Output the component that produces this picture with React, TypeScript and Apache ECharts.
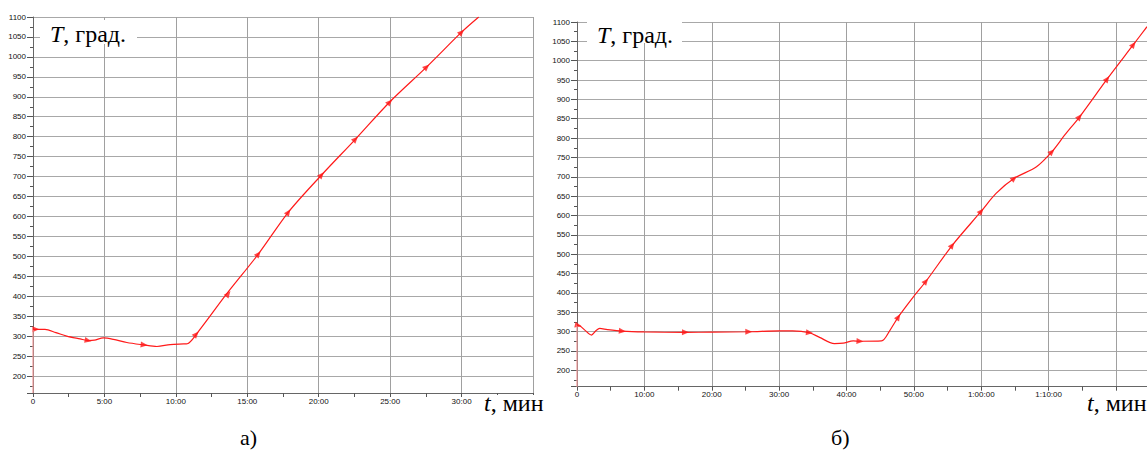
import React, { useEffect, useRef } from 'react';
import * as echarts from 'echarts';

// ---- data (time in minutes, temperature in degrees) ----
const leftTime = [0, 0.84, 1.6, 2.36, 3.3, 3.86, 4.3, 4.93, 5.63, 6.57, 7.74, 8.67, 9.6, 10.54, 10.8, 11.48, 13.58, 15.78, 17.88, 20.2, 22.58, 24.97, 27.56, 30.0, 31.2];
const leftTemp = [317, 317, 309, 300, 293, 289, 290, 295.5, 292, 284, 278, 274, 279, 280.5, 281, 307, 407, 506, 611, 704, 794, 887, 975, 1062, 1100];
const leftMarkTime = [0.2, 3.86, 7.78, 11.43, 13.67, 15.78, 17.88, 20.2, 22.58, 24.97, 27.56, 30.0];
const leftMarkTemp = [317, 289, 278, 305, 406, 506, 611, 704, 794, 887, 975, 1062];

const rightTime = [0, 0.5, 1.2, 2.14, 2.8, 3.37, 4.5, 6.73, 10, 16.1, 20, 25.5, 30, 32, 34.5, 36, 38.2, 39.5, 41, 42, 45.2, 46.4, 47.7, 49.9, 51.8, 55.7, 60.0, 62.2, 64.9, 68.2, 70.5, 72.4, 74.6, 78.7, 82.6, 84.6];
const rightTemp = [316, 314, 303, 291, 302, 308, 305, 301, 299, 298, 298.5, 299.5, 302, 302, 297, 285, 269, 270, 276, 275, 276, 302, 338, 389, 430, 523, 611, 657, 696, 726, 765, 808, 855, 953, 1042, 1088];
const rightMarkTime = [0.2, 6.73, 16.1, 25.5, 34.5, 42.0, 47.7, 51.8, 55.7, 60.0, 64.9, 70.5, 74.6, 78.7, 82.6];
const rightMarkTemp = [316, 301, 298, 299.5, 297, 275, 338, 430, 523, 611, 696, 765, 855, 953, 1042];

const yMin = 157.5;
const yMax = 1100;
const leftXMax = 35;
const rightXMax = 84.6;
const leftXStep = 5;
const rightXStep = 10;
const leftHiddenTick = 35;
const rightHiddenTick = 80;

const yTitle = 'T';
const yTitleRest = ', град.';
const xTitle = 't';
const xTitleRest = ', мин';
const panelA = 'а)';
const panelB = 'б)';

// ---- layout ----
const L = { left: 33, top: 17, width: 500, height: 376 };
const R = { left: 577, top: 22, width: 570, height: 364.7 };

function fmtTime(v: number): string {
  if (v === 0) return '0';
  const total = Math.round(v);
  const h = Math.floor(total / 60);
  const m = total % 60;
  if (h > 0) return `${h}:${String(m).padStart(2, '0')}:00`;
  return `${m}:00`;
}

function angleAt(ts: number[], vs: number[], t: number, pxm: number, pyu: number): number {
  let i = 0;
  while (i < ts.length - 2 && ts[i + 1] < t) i++;
  const dt = ts[i + 1] - ts[i];
  const dv = vs[i + 1] - vs[i];
  const a = (Math.atan2(dv * pyu, dt * pxm) * 180) / Math.PI;
  return a - 90;
}

const axisFont = { fontFamily: 'Liberation Sans, Arial, sans-serif', fontSize: 8, color: '#111' };

function xAxisCfg(grid: number, max: number, step: number, hidden: number) {
  return {
    gridIndex: grid,
    type: 'value',
    min: 0,
    max,
    interval: step,
    axisLine: { show: true, lineStyle: { color: '#666', width: 1 } },
    axisTick: { show: true, length: 4, lineStyle: { color: '#555' } },
    minorTick: { show: true, splitNumber: 2, length: 4, lineStyle: { color: '#555' } },
    splitLine: { show: true, lineStyle: { color: '#a0a0a0', width: 1 } },
    axisLabel: {
      ...axisFont,
      margin: 4,
      showMaxLabel: false,
      formatter: (v: number) => (Math.abs(v - hidden) < 0.01 ? '' : fmtTime(v)),
    },
  };
}

function yAxisCfg(grid: number) {
  return {
    gridIndex: grid,
    type: 'value',
    min: yMin,
    max: yMax,
    splitNumber: 19,
    axisLine: { show: true, lineStyle: { color: '#666', width: 1 } },
    axisTick: { show: true, length: 6, lineStyle: { color: '#555' } },
    minorTick: { show: true, splitNumber: 2, length: 3, lineStyle: { color: '#555' } },
    splitLine: { show: true, lineStyle: { color: '#a8a8a8', width: 1 } },
    axisLabel: { ...axisFont, margin: 7, showMinLabel: false, formatter: (v: number) => String(Math.round(v)) },
  };
}

export default function App() {
  const ref = useRef<HTMLDivElement>(null);
  useEffect(() => {
    if (!ref.current) return;
    const chart = echarts.init(ref.current, undefined, { renderer: 'svg' });

    const lPxm = L.width / leftXMax;
    const lPyu = L.height / (yMax - yMin);
    const rPxm = R.width / rightXMax;
    const rPyu = R.height / (yMax - yMin);

    const leftLine = leftTime.map((t, i) => [t, leftTemp[i]]);
    const rightLine = rightTime.map((t, i) => [t, rightTemp[i]]);
    const leftMarks = leftMarkTime.map((t, i) => ({
      value: [t, leftMarkTemp[i]],
      symbolRotate: angleAt(leftTime, leftTemp, t, lPxm, lPyu),
    }));
    const rightMarks = rightMarkTime.map((t, i) => ({
      value: [t, rightMarkTemp[i]],
      symbolRotate: angleAt(rightTime, rightTemp, t, rPxm, rPyu),
    }));

    const serif = 'Liberation Serif, Times New Roman, serif';
    const titleRich = {
      i: { fontStyle: 'italic', fontFamily: serif, fontSize: 24, fill: '#000', color: '#000' },
      n: { fontFamily: serif, fontSize: 24, fill: '#000', color: '#000' },
    };

    const lineColor = '#ff1a1a';

    chart.setOption({
      animation: false,
      backgroundColor: '#ffffff',
      grid: [
        { left: L.left, top: L.top, width: L.width, height: L.height },
        { left: R.left, top: R.top, width: R.width, height: R.height },
      ],
      xAxis: [xAxisCfg(0, leftXMax, leftXStep, leftHiddenTick), xAxisCfg(1, rightXMax, rightXStep, rightHiddenTick)],
      yAxis: [yAxisCfg(0), yAxisCfg(1)],
      series: [
        {
          type: 'line', xAxisIndex: 0, yAxisIndex: 0, data: [[0, yMin], [0, leftTemp[0]]],
          showSymbol: false, lineStyle: { color: '#f29a9a', width: 1.2 }, silent: true,
        },
        {
          type: 'line', xAxisIndex: 0, yAxisIndex: 0, data: leftLine, smooth: 0.3,
          showSymbol: false, lineStyle: { color: lineColor, width: 1.2 }, silent: true,
        },
        {
          type: 'scatter', xAxisIndex: 0, yAxisIndex: 0, data: leftMarks,
          symbol: 'triangle', symbolSize: [6, 7], itemStyle: { color: lineColor }, silent: true,
        },
        {
          type: 'line', xAxisIndex: 1, yAxisIndex: 1, data: [[0, yMin], [0, rightTemp[0]]],
          showSymbol: false, lineStyle: { color: '#f29a9a', width: 1.2 }, silent: true,
        },
        {
          type: 'line', xAxisIndex: 1, yAxisIndex: 1, data: rightLine, smooth: 0.3,
          showSymbol: false, lineStyle: { color: lineColor, width: 1.2 }, silent: true,
        },
        {
          type: 'scatter', xAxisIndex: 1, yAxisIndex: 1, data: rightMarks,
          symbol: 'triangle', symbolSize: [6, 7], itemStyle: { color: lineColor }, silent: true,
        },
      ],
      graphic: [
        { type: 'rect', z: 100, shape: { x: 40, y: 20, width: 97, height: 24 }, style: { fill: '#fff' } },
        {
          type: 'text', z: 101, x: 50, y: 34,
          style: { text: `{i|${yTitle}}{n|${yTitleRest}}`, rich: titleRich, verticalAlign: 'middle', align: 'left' },
        },
        { type: 'rect', z: 100, shape: { x: 587, y: 21, width: 95, height: 22 }, style: { fill: '#fff' } },
        {
          type: 'text', z: 101, x: 597, y: 35,
          style: { text: `{i|${yTitle}}{n|${yTitleRest}}`, rich: titleRich, verticalAlign: 'middle', align: 'left' },
        },
        { type: 'rect', z: 100, shape: { x: 480, y: 395, width: 80, height: 25 }, style: { fill: '#fff' } },
        {
          type: 'text', z: 101, x: 484, y: 403,
          style: { text: `{i|${xTitle}}{n|${xTitleRest}}`, rich: titleRich, verticalAlign: 'middle', align: 'left' },
        },
        { type: 'rect', z: 100, shape: { x: 1083, y: 392, width: 64, height: 28 }, style: { fill: '#fff' } },
        {
          type: 'text', z: 101, x: 1087, y: 403,
          style: { text: `{i|${xTitle}}{n|${xTitleRest}}`, rich: titleRich, verticalAlign: 'middle', align: 'left' },
        },
        {
          type: 'text', z: 101, x: 240, y: 437,
          style: { text: panelA, font: `22px ${serif}`, fill: '#000', verticalAlign: 'middle', align: 'left' },
        },
        {
          type: 'text', z: 101, x: 831, y: 437,
          style: { text: panelB, font: `22px ${serif}`, fill: '#000', verticalAlign: 'middle', align: 'left' },
        },
      ],
    });

    return () => chart.dispose();
  }, []);

  return (
    <div
      ref={ref}
      style={{ position: 'fixed', left: 0, top: 0, width: 1147, height: 452, background: '#fff' }}
    />
  );
}
